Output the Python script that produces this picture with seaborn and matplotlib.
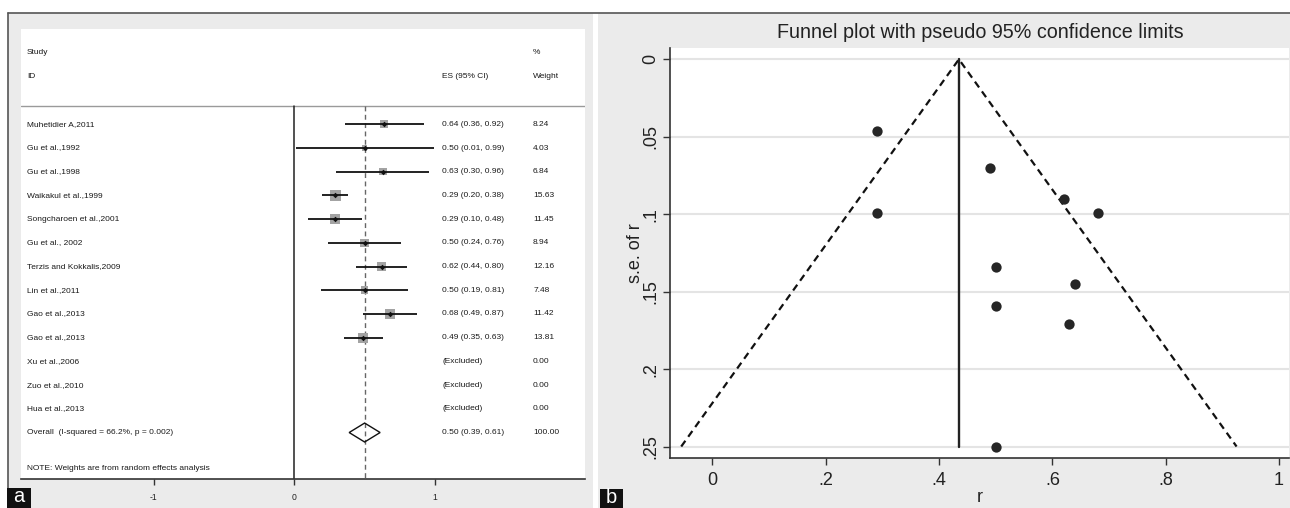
import numpy as np
import pandas as pd
import matplotlib
matplotlib.use("Agg")
import matplotlib.pyplot as plt
from matplotlib.patches import Rectangle, Polygon
from matplotlib.lines import Line2D
from matplotlib import font_manager
import seaborn as sns

# ---- forest plot data ----
studies = ["Muhetidier A,2011", "Gu et al.,1992", "Gu et al.,1998", "Waikakul et al.,1999",
           "Songcharoen et al.,2001", "Gu et al., 2002", "Terzis and Kokkalis,2009",
           "Lin et al.,2011", "Gao et al.,2013", "Gao et al.,2013",
           "Xu et al.,2006", "Zuo et al.,2010", "Hua et al.,2013"]
es = [0.64, 0.50, 0.63, 0.29, 0.29, 0.50, 0.62, 0.50, 0.68, 0.49, np.nan, np.nan, np.nan]
ci_low = [0.36, 0.01, 0.30, 0.20, 0.10, 0.24, 0.44, 0.19, 0.49, 0.35, np.nan, np.nan, np.nan]
ci_high = [0.92, 0.99, 0.96, 0.38, 0.48, 0.76, 0.80, 0.81, 0.87, 0.63, np.nan, np.nan, np.nan]
weights = [8.24, 4.03, 6.84, 15.63, 11.45, 8.94, 12.16, 7.48, 11.42, 13.81, 0.00, 0.00, 0.00]
overall_es, overall_lo, overall_hi, overall_w = 0.50, 0.39, 0.61, 100.00
overall_label = "Overall  (I-squared = 66.2%, p = 0.002)"
note_label = "NOTE: Weights are from random effects analysis"
forest_ticks = [-1, 0, 1]

# ---- funnel plot data ----
funnel_r = [0.64, 0.50, 0.63, 0.29, 0.29, 0.50, 0.62, 0.50, 0.68, 0.49]
funnel_se = [0.145, 0.250, 0.171, 0.046, 0.099, 0.134, 0.090, 0.159, 0.099, 0.070]
pooled_r = 0.435
funnel_left, funnel_right, se_max = -0.055, 0.925, 0.25
funnel_xticks = [0, 0.2, 0.4, 0.6, 0.8, 1.0]
funnel_xlabels = ["0", ".2", ".4", ".6", ".8", "1"]
funnel_yticks = [0, 0.05, 0.10, 0.15, 0.20, 0.25]
funnel_ylabels = ["0", ".05", ".1", ".15", ".2", ".25"]

sns.set_theme(style="white")
plt.rcParams["font.family"] = ["Liberation Sans", "DejaVu Sans"]

# a narrow face for the forest table, if one is installed
installed = {f.name for f in font_manager.fontManager.ttflist}
narrow = "Liberation Sans Narrow" if "Liberation Sans Narrow" in installed else "Liberation Sans"
tfs = 6.6 if narrow == "Liberation Sans Narrow" else 6.0

W, H = 1290, 508
fig = plt.figure(figsize=(W / 100, H / 100), dpi=100)
fig.patch.set_facecolor("white")


def fx(px):
    return px / W


def fy(py):
    return 1 - py / H


def fig_box(x0, y0, x1, y1, z, **kw):
    fig.patches.append(Rectangle((fx(x0), fy(y1)), fx(x1) - fx(x0), fy(y0) - fy(y1),
                                 transform=fig.transFigure, zorder=z, **kw))


# panel backgrounds and frame rules
fig_box(8, 13, 593, 508, -10, facecolor="#ebebeb", edgecolor="none")
fig_box(598, 13, 1290, 508, -10, facecolor="#ebebeb", edgecolor="none")
fig.add_artist(Line2D([fx(8), 1], [fy(13), fy(13)], color="#555555", lw=1.2, zorder=-5))
fig.add_artist(Line2D([fx(8), fx(8)], [fy(13), 0], color="#555555", lw=1.2, zorder=-5))

# ================= panel a: forest plot =================
ax = fig.add_axes([fx(21), fy(479), fx(585) - fx(21), fy(29) - fy(479)])
ax.set_zorder(1)
ax.set_facecolor("white")
ax.set_xlim(-1.942, 2.066)
ax.set_ylim(14.96, -4.02)

rows = np.arange(len(studies))
df = pd.DataFrame({"study": studies, "es": es, "lo": ci_low, "hi": ci_high,
                   "weight": weights, "row": rows})
inc = df.dropna()

sep_row = -0.77
ax.axhline(sep_row, color="#9a9a9a", lw=1.0)
ax.plot([0, 0], [sep_row, 14.96], color="#222222", lw=1.1)
ax.plot([overall_es, overall_es], [sep_row, 14.96], color="#666666", lw=1.0, ls=(0, (3.5, 2.5)))

ax.hlines(inc["row"], inc["lo"], inc["hi"], color="#111111", lw=1.3, zorder=3)
k = 4.0
sns.scatterplot(data=inc, x="es", y="row", size="weight", marker="s",
                sizes=(k * inc["weight"].min(), k * inc["weight"].max()),
                size_norm=(inc["weight"].min(), inc["weight"].max()),
                color="#a3a3a3", linewidth=0, legend=False, ax=ax, zorder=2)
sns.scatterplot(data=inc, x="es", y="row", marker="D", s=8, color="#111111",
                linewidth=0, legend=False, ax=ax, zorder=4)

orow = len(studies)
ax.add_patch(Polygon([(overall_lo, orow), (overall_es, orow - 0.4), (overall_hi, orow),
                      (overall_es, orow + 0.4)], closed=True, facecolor="none",
                     edgecolor="#111111", lw=1.0, zorder=3))

tkw = dict(fontsize=tfs, color="#1a1a1a", va="center", ha="left", family=[narrow, "DejaVu Sans"])
x_name, x_es, x_w = -1.90, 1.050, 1.697
ax.text(x_name, -3.02, "Study", **tkw)
ax.text(x_name, -2.0, "ID", **tkw)
ax.text(x_es, -2.0, "ES (95% CI)", **tkw)
ax.text(x_w, -3.02, "%", **tkw)
ax.text(x_w, -2.0, "Weight", **tkw)
for _, r in df.iterrows():
    ax.text(x_name, r["row"], r["study"], **tkw)
    if np.isnan(r["es"]):
        lab = "(Excluded)"
    else:
        lab = f"{r['es']:.2f} ({r['lo']:.2f}, {r['hi']:.2f})"
    ax.text(x_es, r["row"], lab, **tkw)
    ax.text(x_w, r["row"], f"{r['weight']:.2f}", **tkw)
ax.text(x_name, orow, overall_label, **tkw)
ax.text(x_es, orow, f"{overall_es:.2f} ({overall_lo:.2f}, {overall_hi:.2f})", **tkw)
ax.text(x_w, orow, f"{overall_w:.2f}", **tkw)
ax.text(x_name, 14.5, note_label, **tkw)

for s in ["top", "left", "right"]:
    ax.spines[s].set_visible(False)
ax.spines["bottom"].set_color("#333333")
ax.spines["bottom"].set_linewidth(1.2)
ax.set_xticks(forest_ticks)
ax.set_xticklabels([str(t) for t in forest_ticks], fontsize=6.2, color="#222222",
                   family=[narrow, "DejaVu Sans"])
ax.set_yticks([])
ax.tick_params(axis="x", bottom=True, direction="out", length=4, width=1,
               color="#333333", pad=6)
ax.set_xlabel("")
ax.set_ylabel("")

# ================= panel b: funnel plot =================
bx = fig.add_axes([fx(670), fy(458.3), fx(1289) - fx(670), fy(48.3) - fy(458.3)])
bx.set_zorder(1)
bx.set_facecolor("white")
bx.set_xlim(-0.0748, 1.0175)
bx.set_ylim(0.2576, -0.0071)
bx.set_yticks(funnel_yticks)
bx.grid(axis="y", color="#e4e4e4", lw=1.5)
bx.grid(axis="x", visible=False)
bx.set_axisbelow(True)

bx.plot([funnel_left, pooled_r, funnel_right], [se_max, 0, se_max], color="#111111",
        lw=1.6, ls=(0, (3.2, 2.2)))
bx.plot([pooled_r, pooled_r], [0, se_max], color="#222222", lw=1.7)
sns.scatterplot(x=funnel_r, y=funnel_se, color="#262626", s=55, linewidth=0,
                legend=False, ax=bx, zorder=3)

for s in ["top", "right"]:
    bx.spines[s].set_visible(False)
for s in ["left", "bottom"]:
    bx.spines[s].set_color("#333333")
    bx.spines[s].set_linewidth(1.2)
bx.set_xticks(funnel_xticks)
bx.set_xticklabels(funnel_xlabels, fontsize=13, color="#222222")
bx.set_yticklabels(funnel_ylabels, fontsize=13, color="#222222", rotation=90, va="center")
bx.tick_params(axis="both", direction="out", length=5, width=1, color="#333333",
               left=True, bottom=True, pad=3)
bx.tick_params(axis="x", pad=5)
bx.set_xlabel("r", fontsize=13, color="#222222")
bx.set_ylabel("s.e. of r", fontsize=13, color="#222222")
bx.xaxis.set_label_coords(0.5, -(497 - 458.3) / 410)
bx.xaxis.label.set_va("center")
bx.yaxis.set_label_coords((635 - 670) / 619, 0.5)
bx.yaxis.label.set_va("center")

fig.text(fx(980), fy(33), "Funnel plot with pseudo 95% confidence limits",
         ha="center", va="center", fontsize=14.2, color="#222222")

# panel letters
fig_box(7, 488, 31, 508, 5, facecolor="#111111", edgecolor="none")
fig.text(fx(19), fy(497), "a", color="white", fontsize=14.5, ha="center", va="center", zorder=6)
fig_box(600, 489, 623, 508, 5, facecolor="#111111", edgecolor="none")
fig.text(fx(611.5), fy(497.5), "b", color="white", fontsize=14.5, ha="center", va="center", zorder=6)

fig.savefig("out.png", dpi=100, facecolor="white")
